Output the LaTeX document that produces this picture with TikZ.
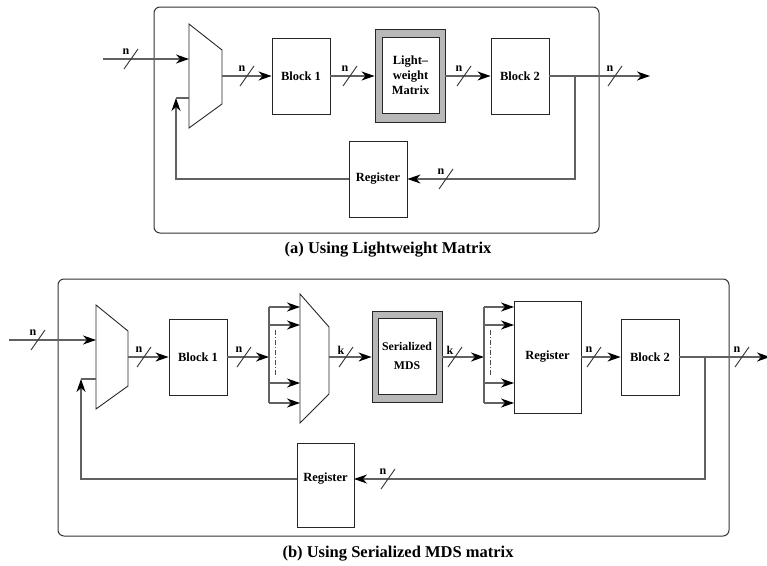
\documentclass[tikz,border=0pt]{standalone}
\usepackage{fontspec}
\setmainfont{Liberation Serif}
\usetikzlibrary{arrows.meta}
\begin{document}
\begin{tikzpicture}[x=1pt,y=-1pt,
  wire/.style={draw=black!62, line width=1.1pt},
  arr/.style={wire, -{Stealth[length=13pt,width=9pt,inset=4pt,color=black]}},
  box/.style={draw=black!85, line width=0.9pt, fill=white, inner sep=0pt, font=\fontsize{12.5}{15}\selectfont\bfseries, align=center},
  gbox/.style={draw=black!85, line width=0.9pt, fill=black!28, inner sep=0pt},
  framebox/.style={draw=black!80, line width=1pt, rounded corners=6pt},
  muxs/.style={draw=black!85, line width=0.9pt},
  captxt/.style={font=\fontsize{16.5}{19}\selectfont\bfseries, anchor=base, inner sep=0pt},
  busl/.style={font=\fontsize{12}{13}\selectfont\bfseries, inner sep=0pt},
  pics/bus/.style={code={\draw[black!80, line width=0.9pt] (-7,10) -- (7,-10); \node[busl] at (-5,-7) {#1};}},
  dd/.style={draw=black!70, line width=0.9pt, dash pattern=on 5pt off 2pt on 1pt off 2pt}
]
\useasboundingbox (0,0) rectangle (767,565);

% ================= (a) =================
\draw[framebox] (154,7) rectangle (599,233);
% mux
\draw[muxs] (189,24) -- (222,50) -- (222,104) -- (189,128) -- cycle;
\coordinate (mx1in) at (189,59);
\coordinate (mx1fb) at (189,98);
\coordinate (mx1out) at (222,76);
\coordinate (in1) at (103,59);
\coordinate (fb1) at (176,98);
% blocks
\node[box, minimum width=58, minimum height=76] (b1) at (301,76) {Block 1};
\node[gbox, minimum width=70, minimum height=93] (m1o) at (410,75.5) {};
\node[box, minimum width=57, minimum height=76] (m1) at (410.5,75) {Light–\\weight\\Matrix};
\node[box, minimum width=58, minimum height=76] (b2) at (520,76) {Block 2};
\node[box, minimum width=58, minimum height=76] (r1) at (378,179) {Register};
\coordinate (out1) at (650,76);
\coordinate (br1) at (575,76);
% connectors
\draw[arr] (in1) -- (mx1in);
\draw[arr] (mx1out) -- (b1.west);
\draw[arr] (b1.east) -- (m1o.west |- b1.east);
\draw[arr] (m1o.east |- b2.west) -- (b2.west);
\draw[arr] (b2.east) -- (out1);
\draw[arr] (br1) |- (r1.east);
\draw[arr] (r1.west) -| (fb1);
\draw[wire] (fb1) -- (mx1fb);
% bus marks
\pic at (131,59) {bus=n};
\pic at (247,76) {bus=n};
\pic at (350,76) {bus=n};
\pic at (464,76) {bus=n};
\pic at (615,76) {bus=n};
\pic at (446,179) {bus=n};
\node[captxt] (capa) at (388,253) {(a) Using Lightweight Matrix};

% ================= (b) =================
\draw[framebox] (58,279) rectangle (729,536);
% mux A
\draw[muxs] (96,305) -- (128,331) -- (128,386) -- (96,409) -- cycle;
\coordinate (mxAin) at (96,340);
\coordinate (mxAfb) at (96,379);
\coordinate (mxAout) at (128,357);
\coordinate (in2) at (9,340);
\coordinate (fb2) at (81,379);
% mux B
\draw[muxs] (300,294) -- (329,327) -- (329,394) -- (300,423) -- cycle;
\coordinate (mxBout) at (329,357);
% split points
\coordinate (sp1) at (269,357);
\coordinate (sp2) at (484,357);
% blocks
\node[box, minimum width=58, minimum height=76] (bb1) at (198,357) {Block 1};
\node[gbox, minimum width=70, minimum height=91] (smo) at (407,356.5) {};
\node[box, minimum width=58, minimum height=76, font=\fontsize{11.8}{19}\selectfont\bfseries] (sm) at (407,356) {Serialized\\MDS};
\node[box, minimum width=67, minimum height=112] (r2) at (547.5,357) {Register};
\node[box, minimum width=58, minimum height=76] (bb2) at (650,357) {Block 2};
\node[box, minimum width=57, minimum height=84] (r3) at (325.5,485) {};
\node[font=\fontsize{12.5}{15}\selectfont\bfseries, inner sep=0pt] (r3t) at (325.5,479) {Register};
\coordinate (out2) at (770,357);
\coordinate (br2) at (705,357);
\coordinate (r3in) at (354,479);
\coordinate (r3out) at (297,479);
% connectors
\draw[arr] (in2) -- (mxAin);
\draw[arr] (mxAout) -- (bb1.west);
\draw[arr] (bb1.east) -- (sp1);
\draw[wire] (269,307) -- (269,403);
\foreach \yy in {307,325,383,403} \draw[arr] (269,\yy) -- (300,\yy);
\draw[dd] (275,330) -- (275,377);
\draw[arr] (mxBout) -- (smo.west |- mxBout);
\draw[arr] (smo.east |- sp2) -- (sp2);
\draw[wire] (484,307) -- (484,403);
\foreach \yy in {307,325,383,403} \draw[arr] (484,\yy) -- (514,\yy);
\draw[dd] (490,330) -- (490,377);
\draw[arr] (r2.east) -- (bb2.west);
\draw[arr] (bb2.east) -- (out2);
\draw[arr] (br2) |- (r3in);
\draw[arr] (r3out) -| (fb2);
\draw[wire] (fb2) -- (mxAfb);
% bus marks
\pic at (38,340) {bus=n};
\pic at (144,357) {bus=n};
\pic at (244,357) {bus=n};
\pic at (346,357) {bus=k};
\pic at (455,357) {bus=k};
\pic at (594,357) {bus=n};
\pic at (742,357) {bus=n};
\pic at (388,479) {bus=n};
\node[captxt] (capb) at (398,557) {(b) Using Serialized MDS matrix};
\end{tikzpicture}
\end{document}
